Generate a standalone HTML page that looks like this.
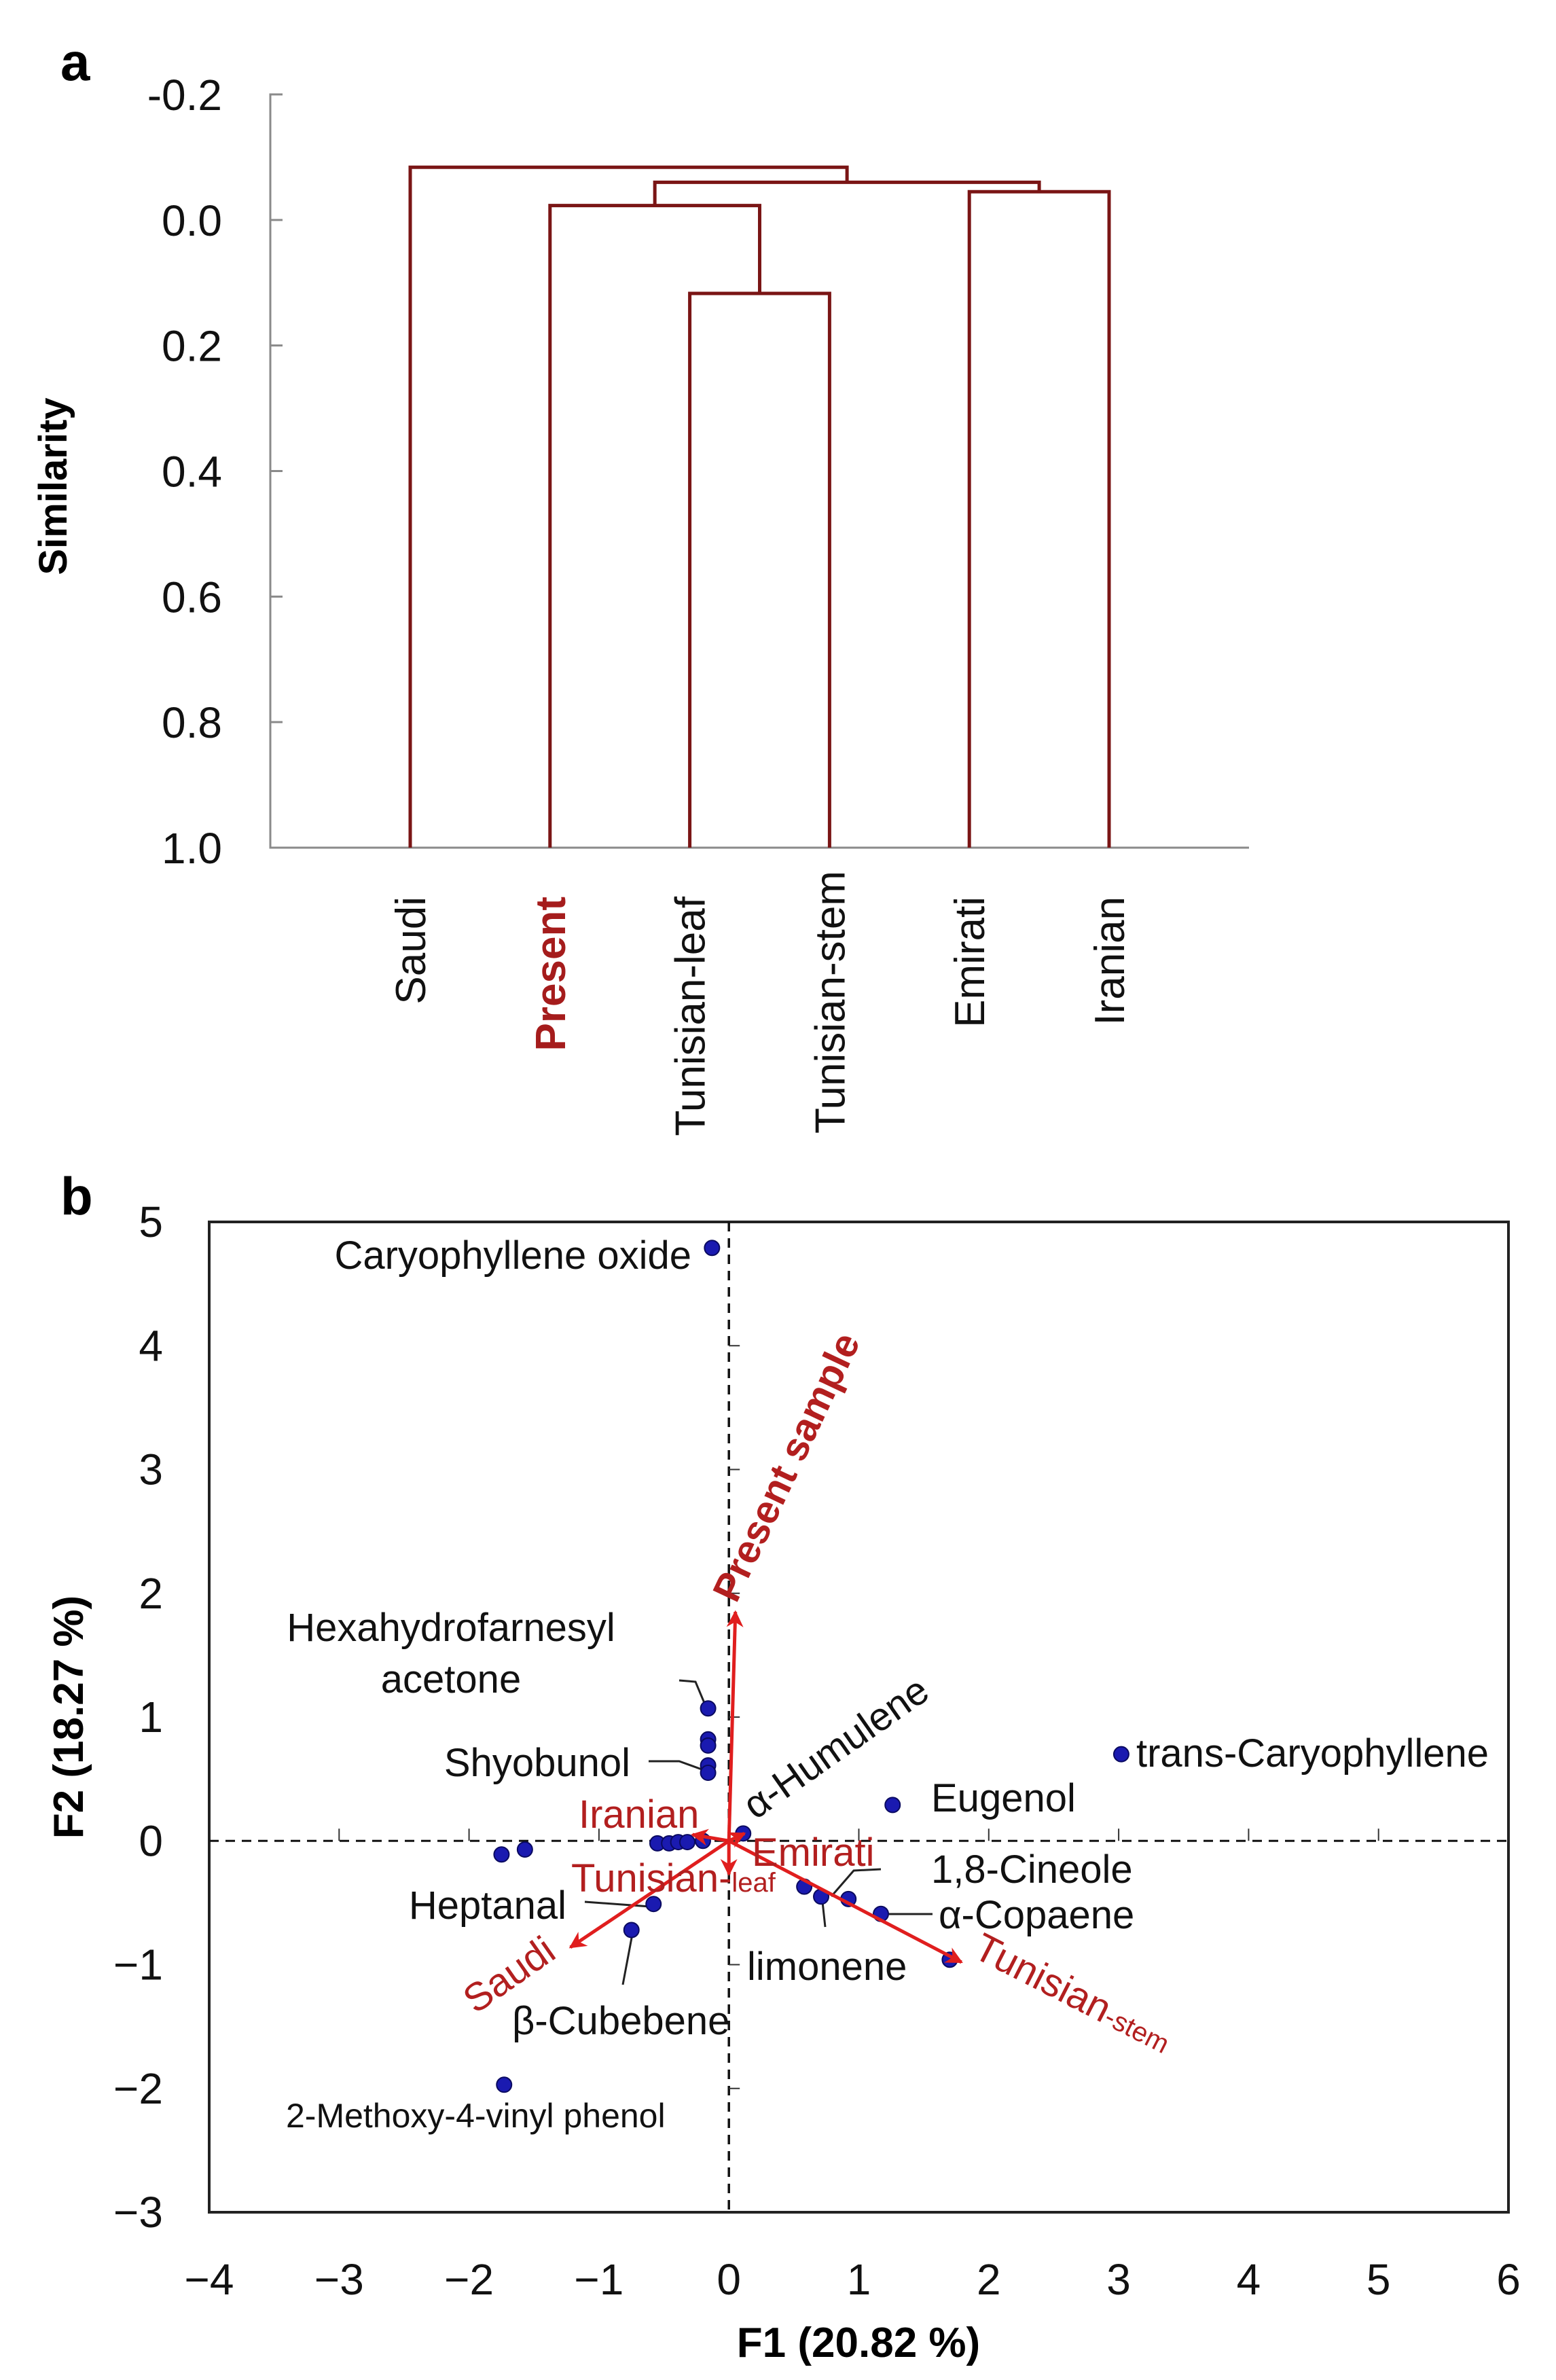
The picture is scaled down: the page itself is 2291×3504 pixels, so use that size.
<!DOCTYPE html>
<html><head><meta charset="utf-8"><style>
html,body{margin:0;padding:0;background:#fff}
svg{display:block;font-family:"Liberation Sans","DejaVu Sans",sans-serif}
</style></head><body>
<svg id="fig" width="2291" height="3504" viewBox="0 0 2291 3504" xmlns="http://www.w3.org/2000/svg">
<rect width="2291" height="3504" fill="#fff"/>
<g id="dendro"></g>
<g id="pca"></g>
</svg>
<script>
// ---------- Dendrogram data ----------
const leafNames = ["Saudi","Present","Tunisian-leaf","Tunisian-stem","Emirati","Iranian"];
const simTicks = [-0.2,0.0,0.2,0.4,0.6,0.8,1.0];
const simTickLabels = ["-0.2","0.0","0.2","0.4","0.6","0.8","1.0"];
// merges: [leftIndex,rightIndex,height]; indices >=6 refer to previous merges
const mergeLeft = [2,1,4,7,0];
const mergeRight = [3,6,5,8,9];
const mergeHeight = [0.117,-0.023,-0.045,-0.06,-0.084];

// ---------- PCA data ----------
const xTicks = [-4,-3,-2,-1,0,1,2,3,4,5,6];
const yTicks = [-3,-2,-1,0,1,2,3,4,5];
const obsX = [-0.13,-0.16,-0.16,-0.16,-0.16,-0.16,3.02,1.26,0.11,-0.55,-0.46,-0.39,-0.32,-0.2,-1.75,-1.57,-0.58,-0.75,-1.73,0.58,0.71,0.92,1.17,1.70];
const obsY = [4.79,1.07,0.82,0.77,0.61,0.55,0.70,0.29,0.06,-0.02,-0.02,-0.01,-0.01,0.0,-0.11,-0.07,-0.51,-0.72,-1.97,-0.37,-0.45,-0.47,-0.59,-0.96];
const varNames = ["Present sample","Saudi","Tunisian-stem","Iranian","Emirati","Tunisian-leaf"];
const varX = [0.05,-1.22,1.79,-0.28,0.12,0.0];
const varY = [1.85,-0.86,-0.98,0.05,0.06,-0.27];

const NS="http://www.w3.org/2000/svg";
function mk(tag,attrs,parent,text){const e=document.createElementNS(NS,tag);for(const k in attrs)e.setAttribute(k,attrs[k]);if(text!==undefined)e.textContent=text;parent.appendChild(e);return e;}

// ---------- Panel a ----------
const D=document.getElementById('dendro');
const dX0=398, dX1=1839, leaf0=604, leafStep=205.8;
const dy=v=>139+(v+0.2)/1.2*(1248-139);
const lx=i=>leaf0+i*leafStep;
let t=mk('text',{x:89,y:118,'font-size':78,'font-weight':'bold'},document.getElementById('fig'),'a');


let ax=mk('path',{d:`M${dX0+18} ${dy(-0.2)}H${dX0}V${dy(1.0)}H${dX1}`,fill:'none',stroke:'#8a8a8a','stroke-width':3},D);


simTicks.forEach((v,i)=>{
  const tk=mk('line',{x1:dX0,x2:dX0+18,y1:dy(v),y2:dy(v),stroke:'#8a8a8a','stroke-width':3},D);
  
  
  const tl=mk('text',{x:327,y:dy(v)+23,'font-size':64,'text-anchor':'end',fill:'#111'},D,simTickLabels[i]);
  
  
});
t=mk('text',{x:0,y:0,'font-size':58,'font-weight':'bold','text-anchor':'middle',transform:'translate(98,716) rotate(-90)'},D,'Similarity');


const nodeX=leafNames.map((_,i)=>lx(i));
const nodeY=leafNames.map(()=>dy(1.0));
mergeLeft.forEach((a,k)=>{
  const b=mergeRight[k], h=dy(mergeHeight[k]);
  const p=mk('path',{d:`M${nodeX[a]} ${nodeY[a]}V${h}H${nodeX[b]}V${nodeY[b]}`,fill:'none',stroke:'#7a1515','stroke-width':5},D);
  
  
  nodeX.push((nodeX[a]+nodeX[b])/2); nodeY.push(h);
});
leafNames.forEach((n,i)=>{
  const isP=n==='Present';
  const tl=mk('text',{x:0,y:0,'font-size':62,'text-anchor':'end','font-weight':isP?'bold':'normal',fill:isP?'#a51c1c':'#111',transform:`translate(${lx(i)+22},${i===3?1282:1320}) rotate(-90)`},D,n);
  
  
});

// ---------- Panel b ----------
const P=document.getElementById('pca');
const bx0=308,bx1=2221,by0=1799,by1=3257;
const px=v=>bx0+(v+4)/10*(bx1-bx0);
const py=v=>by1-(v+3)/8*(by1-by0);
t=mk('text',{x:89,y:1788,'font-size':78,'font-weight':'bold'},document.getElementById('fig'),'b');


let box=mk('rect',{x:bx0,y:by0,width:bx1-bx0,height:by1-by0,fill:'none',stroke:'#222','stroke-width':4},P);


let zl=mk('line',{x1:px(0),x2:px(0),y1:by0,y2:by1,stroke:'#111','stroke-width':3.5,'stroke-dasharray':'14 10'},P);


zl=mk('line',{x1:bx0,x2:bx1,y1:py(0),y2:py(0),stroke:'#111','stroke-width':3,'stroke-dasharray':'14 10'},P);


xTicks.forEach(v=>{
  if(v>-4&&v<6){const tk=mk('line',{x1:px(v),x2:px(v),y1:py(0)-18,y2:py(0),stroke:'#333','stroke-width':2},P);
  
  }
  const tl=mk('text',{x:px(v),y:3378,'font-size':64,'text-anchor':'middle',fill:'#111'},P,v<0?'\u2212'+(-v):String(v));
  
  
});
yTicks.forEach(v=>{
  if(v>-3&&v<5){const tk=mk('line',{x1:px(0),x2:px(0)+16,y1:py(v),y2:py(v),stroke:'#333','stroke-width':2},P);
  
  }
  const tl=mk('text',{x:240,y:py(v)+22,'font-size':64,'text-anchor':'end',fill:'#111'},P,v<0?'\u2212'+(-v):String(v));
  
  
});
t=mk('text',{x:1264,y:3470,'font-size':62,'font-weight':'bold','text-anchor':'middle'},P,'F1 (20.82 %)');


t=mk('text',{x:0,y:0,'font-size':62,'font-weight':'bold','text-anchor':'middle',transform:'translate(122,2528) rotate(-90)'},P,'F2 (18.27 %)');



const leaders=[[[1000,2474],[1024,2476],[1042,2519]],[[955,2593],[1000,2593],[1036,2606]],[[861,2800],[957,2807]],[[917,2922],[930,2853]],[[1215,2837],[1211,2800]],[[1297,2752],[1257,2754],[1224,2792]],[[1373,2818],[1309,2818]]];
leaders.forEach(l=>{
  const ln=mk('polyline',{points:l.map(p=>p.join(',')).join(' '),fill:'none',stroke:'#222','stroke-width':3},P);
  
  
});

obsX.forEach((x,i)=>{
  const c=mk('circle',{cx:px(x),cy:py(obsY[i]),r:11,fill:'#1a1ab0',stroke:'#0a0a60','stroke-width':2},P);
  
  
});

const defs=mk('defs',{},document.getElementById('fig'));
const mrk=mk('marker',{id:'ah',viewBox:'0 0 10 10',refX:9,refY:5,markerWidth:5,markerHeight:5,orient:'auto'},defs);
mk('path',{d:'M0 0L10 5L0 10L3 5Z',fill:'#e01e1e'},mrk);
varX.forEach((x,i)=>{
  const a=mk('line',{x1:px(0),y1:py(0),x2:px(x),y2:py(varY[i]),stroke:'#e01e1e','stroke-width':5,'marker-end':'url(#ah)'},P);
  
  
});

const lab=(txt,x,y,opt,name)=>{const e=mk('text',Object.assign({x:x,y:y,'font-size':58,fill:'#111'},opt||{}),P,txt);return e;};
lab('Caryophyllene oxide',1018,1868,{'text-anchor':'end'},'label-caryophyllene-oxide');
lab('Hexahydrofarnesyl',664,2416,{'text-anchor':'middle'},'label-hexahydrofarnesyl');
lab('acetone',664,2492,{'text-anchor':'middle'},'label-acetone');
lab('Shyobunol',928,2615,{'text-anchor':'end'},'label-shyobunol');
lab('trans-Caryophyllene',1673,2601,{},'label-trans-caryophyllene');
lab('Eugenol',1371,2667,{},'label-eugenol');
lab('\u03b1-Humulene',0,0,{transform:'translate(1112,2680) rotate(-35)'},'label-alpha-humulene');
lab('1,8-Cineole',1371,2772,{},'label-cineole');
lab('\u03b1-Copaene',1382,2839,{},'label-alpha-copaene');
lab('limonene',1100,2915,{},'label-limonene');
lab('Heptanal',834,2825,{'text-anchor':'end'},'label-heptanal');
lab('\u03b2-Cubebene',754,2995,{},'label-beta-cubebene');
lab('2-Methoxy-4-vinyl phenol',421,3132,{'font-size':50},'label-methoxy-vinyl-phenol');
const red='#b21f1f';
lab('Present sample',0,0,{fill:red,'font-weight':'bold','font-size':58,transform:'translate(1084,2362) rotate(-64.7)'},'label-present-sample');
lab('Iranian',852,2691,{fill:red},'label-iranian');
lab('Emirati',1107,2747,{fill:red},'label-emirati');
const tl=lab('Tunisian-',841,2785,{fill:red},'label-tunisian-leaf');
mk('tspan',{'font-size':40},tl,'leaf');
lab('Saudi',0,0,{fill:red,transform:'translate(700,2966) rotate(-35)'},'label-saudi');
const ts=lab('Tunisian',0,0,{fill:red,transform:'translate(1430,2880) rotate(27)'},'label-tunisian-stem');
mk('tspan',{'font-size':40},ts,'-stem');
</script>
</body></html>
